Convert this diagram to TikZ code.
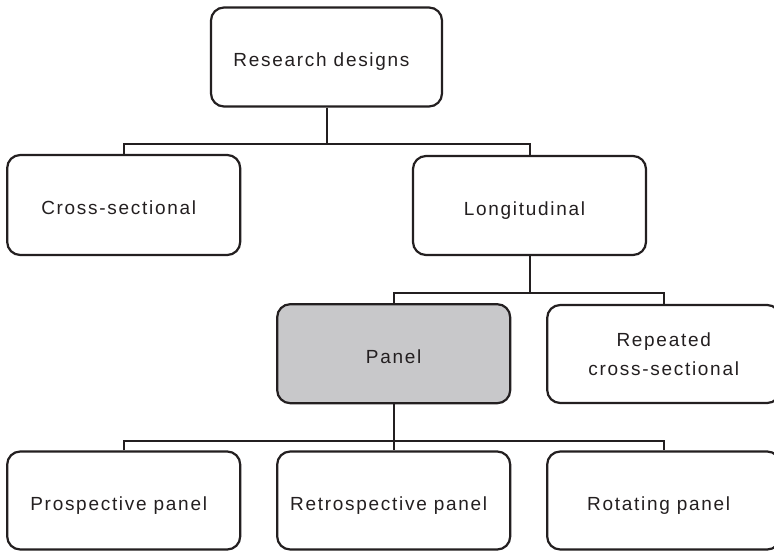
\documentclass[tikz,border=0pt]{standalone}
\usepackage{fontspec}
\setmainfont[LetterSpace=9]{Liberation Sans}
\definecolor{ink}{HTML}{231F20}
\definecolor{panelgray}{HTML}{C8C8CA}
\newcommand{\lft}[1]{#1\hspace*{10pt}}
\begin{document}
\begin{tikzpicture}[x=1pt,y=-1pt,
  box/.style={draw=ink, line width=2.2pt, rounded corners=13pt, fill=white,
    minimum width=233pt, minimum height=98pt, inner sep=0pt,
    font=\fontsize{19}{29}\selectfont, text=ink, align=center},
  one/.style={text height=19pt, text depth=0pt},
  conn/.style={draw=ink, line width=2pt}]
\clip (0,0) rectangle (774,551);
\fill[white] (0,0) rectangle (774,551);
\node[box, one, minimum width=231pt, minimum height=99pt] (rd) at (326.5,57) {\lft{Research designs}};
\node[box, one, minimum height=100pt] (cs) at (123.7,205) {\lft{Cross-sectional}};
\node[box, one, minimum height=99pt] (lo) at (529.5,205.5) {\lft{Longitudinal}};
\node[box, one, minimum height=99pt, fill=panelgray] (pa) at (393.7,353.7) {Panel};
\node[box, minimum height=98pt] (rc) at (663.7,354) {Repeated\\cross-sectional};
\node[box, one] (pp) at (123.7,500.5) {\lft{Prospective panel}};
\node[box, one] (rp) at (393.7,500.5) {\lft{Retrospective panel}};
\node[box, one] (rot) at (663.7,500.5) {\lft{Rotating panel}};
\draw[conn] (cs.north) -- ++(0,-9.5) coordinate (b1) -| (lo.north);
\draw[conn] (rd.south) -- (rd.south |- b1);
\draw[conn] (pa.north) -- ++(0,-10) coordinate (b2) -| (rc.north);
\draw[conn] (lo.south) -- (lo.south |- b2);
\draw[conn] (pp.north) -- ++(0,-9.7) coordinate (b3) -| (rot.north);
\draw[conn] (pa.south) -- (rp.north);
\end{tikzpicture}
\end{document}
